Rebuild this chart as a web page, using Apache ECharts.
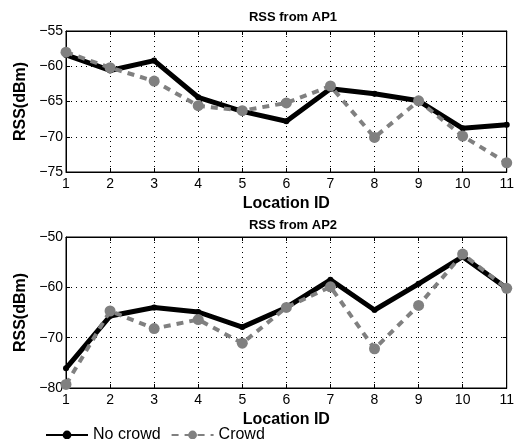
<!DOCTYPE html>
<html><head><meta charset="utf-8">
<script src="https://cdn.jsdelivr.net/npm/echarts@6/dist/echarts.min.js"></script>
<style>html,body{margin:0;padding:0;background:#fff}#c{width:517px;height:439px}</style>
</head><body><div id="c"></div>
<script>
const locations = [1,2,3,4,5,6,7,8,9,10,11];
const ap1NoCrowd = [-58.4,-60.6,-59.2,-64.4,-66.4,-67.8,-63.2,-63.9,-64.9,-68.8,-68.3];
const ap1Crowd   = [-58.0,-60.2,-62.1,-65.6,-66.3,-65.2,-62.8,-70.1,-64.9,-69.9,-73.7];
const ap2NoCrowd = [-76.1,-65.7,-64.0,-64.9,-67.9,-64.0,-58.5,-64.5,-59.3,-53.9,-60.2];
const ap2Crowd   = [-79.3,-64.7,-68.2,-66.4,-71.1,-64.0,-59.9,-72.2,-63.6,-53.4,-60.2];
const titles = ['RSS from AP1','RSS from AP2'];
const xName = 'Location ID';
const yName = 'RSS(dBm)';
const seriesNames = ['No crowd','Crowd'];

const pair = (ys) => locations.map((x,i)=>[x, ys[i]]);
const FONT = 'Liberation Sans, Arial, sans-serif';
const minus = v => String(v).replace('-', '\u2212');

const grids = [
  {left:66, width:445, top:31, height:141, show:true, borderColor:'#000', borderWidth:1, backgroundColor:'#fff'},
  {left:66, width:445, top:237, height:151, show:true, borderColor:'#000', borderWidth:1, backgroundColor:'#fff'}
];
const yRanges = [[-75,-55,5],[-80,-50,10]];

const xAxes = [], yAxes = [];
for (let g=0; g<2; g++) {
  xAxes.push({
    type:'value', gridIndex:g, min:1, max:11, interval:1, position:'bottom',
    name:xName, nameLocation:'middle', nameGap:24,
    nameTextStyle:{fontFamily:FONT, fontWeight:'bold', fontSize:16, color:'#000'},
    axisLine:{show:true, lineStyle:{color:'#000', width:1}},
    axisTick:{show:true, inside:true, length:4, lineStyle:{color:'#000'}},
    axisLabel:{fontFamily:FONT, fontSize:14, color:'#000', margin:5},
    splitLine:{show:true, lineStyle:{color:'#000', type:[1,4], width:1}}
  });
  xAxes.push({
    type:'value', gridIndex:g, min:1, max:11, interval:1, position:'top',
    axisLine:{show:true, lineStyle:{color:'#000'}},
    axisTick:{show:true, inside:true, length:4, lineStyle:{color:'#000'}},
    axisLabel:{show:false}, splitLine:{show:false}
  });
  const [mn,mx,iv] = yRanges[g];
  yAxes.push({
    type:'value', gridIndex:g, min:mn, max:mx, interval:iv, position:'left',
    name:yName, nameLocation:'middle', nameGap:35,
    nameTextStyle:{fontFamily:FONT, fontWeight:'bold', fontSize:16, color:'#000'},
    axisLine:{show:true, lineStyle:{color:'#000'}},
    axisTick:{show:true, inside:true, length:4, lineStyle:{color:'#000'}},
    axisLabel:{fontFamily:FONT, fontSize:14, color:'#000', margin:3, formatter:minus},
    splitLine:{show:true, lineStyle:{color:'#000', type:[1,4], width:1}}
  });
  yAxes.push({
    type:'value', gridIndex:g, min:mn, max:mx, interval:iv, position:'right',
    axisLine:{show:true, lineStyle:{color:'#000'}},
    axisTick:{show:true, inside:true, length:4, lineStyle:{color:'#000'}},
    axisLabel:{show:false}, splitLine:{show:false}
  });
}

const mkNo = (data, g) => ({
  name:seriesNames[0], type:'line', xAxisIndex:g*2, yAxisIndex:g*2, data:pair(data),
  symbol:'circle', symbolSize:6, color:'#000',
  lineStyle:{color:'#000', width:5}, itemStyle:{color:'#000'}, z:2, animation:false
});
const mkCrowd = (data, g) => ({
  name:seriesNames[1], type:'line', xAxisIndex:g*2, yAxisIndex:g*2, data:pair(data),
  symbol:'circle', symbolSize:11, color:'#808080',
  lineStyle:{color:'#808080', width:4, type:[7,6]},
  itemStyle:{color:'#808080', borderColor:'#808080', borderWidth:0}, z:3, animation:false
});

const chart = echarts.init(document.getElementById('c'), null, {renderer:'canvas'});
chart.setOption({
  animation:false,
  title: [
    {text:titles[0], left:288, top:6, textAlign:'center', textStyle:{fontFamily:FONT, fontWeight:'bold', fontSize:13, color:'#000'}},
    {text:titles[1], left:288, top:214, textAlign:'center', textStyle:{fontFamily:FONT, fontWeight:'bold', fontSize:13, color:'#000'}}
  ],
  legend: {
    left:40, top:422, itemWidth:42, itemHeight:11, itemGap:10,
    textStyle:{fontFamily:FONT, fontSize:16, color:'#000'},
    data:seriesNames
  },
  grid: grids,
  xAxis: xAxes,
  yAxis: yAxes,
  series: [mkNo(ap1NoCrowd,0), mkCrowd(ap1Crowd,0), mkNo(ap2NoCrowd,1), mkCrowd(ap2Crowd,1)]
});
</script></body></html>
